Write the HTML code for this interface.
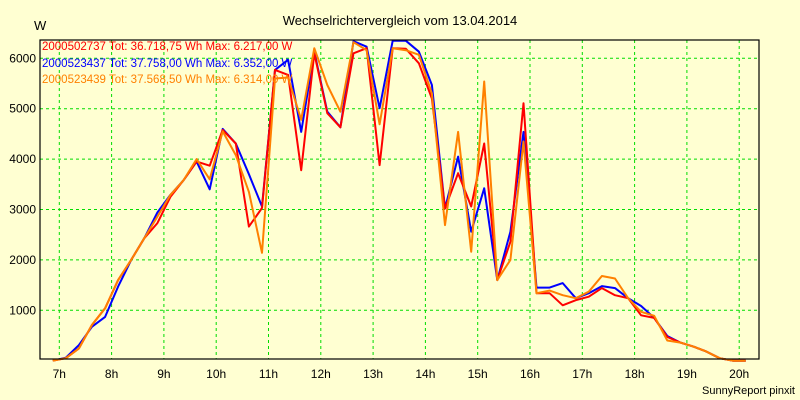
<!DOCTYPE html>
<html><head><meta charset="utf-8"><style>
body{margin:0;background:#ffffd2;}
svg{display:block;font-family:"Liberation Sans",sans-serif;}
</style></head><body>
<svg id="chart" width="800" height="400" viewBox="0 0 800 400">
<rect x="0" y="0" width="800" height="400" fill="#ffffd2"/>
<text x="400" y="25" text-anchor="middle" font-size="13" fill="#000">Wechselrichtervergleich vom 13.04.2014</text>
<text x="34" y="30" font-size="13" fill="#000">W</text>
<text x="795" y="394" text-anchor="end" font-size="11" fill="#000">SunnyReport pinxit</text>
<g id="grid"></g>
<g id="series"></g>
<rect x="40" y="40" width="719" height="319" fill="none" stroke="#000" stroke-width="1.2"/>
<g id="legend">
<text x="42" y="50" font-size="11.5" fill="#ff0000">2000502737 Tot: 36.718,75 Wh Max: 6.217,00 W</text>
<text x="42" y="67" font-size="11.5" fill="#0000ff">2000523437 Tot: 37.758,00 Wh Max: 6.352,00 W</text>
<text x="42" y="83" font-size="11.5" fill="#ff8000">2000523439 Tot: 37.568,50 Wh Max: 6.314,00 W</text>
</g>
</svg>
<script>
const startHour = 6.875;
const stepHours = 0.25;
const xTickLabels = ["7h","8h","9h","10h","11h","12h","13h","14h","15h","16h","17h","18h","19h","20h"];
const xTickHours = [7,8,9,10,11,12,13,14,15,16,17,18,19,20];
const yTickValues = [1000,2000,3000,4000,5000,6000];
const red = [0,50,245,710,1040,1600,2000,2430,2730,3250,3580,3950,3870,4580,4310,2660,3030,5770,5670,3780,6100,4910,4630,6100,6200,3880,6200,6190,5900,5200,3020,3720,3060,4310,1600,2360,5110,1340,1340,1100,1200,1270,1440,1300,1240,900,850,470,360,280,180,50,0,0];
const blue = [0,60,310,675,870,1470,2000,2430,2940,3290,3580,3950,3400,4600,4310,3700,3060,5770,5970,4540,6130,4940,4630,6340,6230,5010,6350,6350,6130,5470,3020,4050,2560,3420,1600,2560,4540,1450,1450,1540,1240,1340,1480,1440,1240,1085,850,490,360,280,180,50,0,0];
const orange = [0,50,245,710,1040,1600,2000,2430,2860,3290,3580,4000,3600,4550,4080,3350,2140,5600,5620,4780,6200,5470,4940,6320,6160,4690,6200,6160,6070,5300,2690,4540,2160,5540,1600,2000,4350,1340,1390,1300,1240,1370,1680,1630,1240,970,890,400,360,280,180,50,0,0];

const NS="http://www.w3.org/2000/svg";
const xOf = h => 59.3 + (h-7)*52.3;
const yOf = v => 360.7 - v*0.0504;
const grid=document.getElementById('grid');
xTickHours.forEach((h,i)=>{
  const l=document.createElementNS(NS,'line');
  l.setAttribute('x1',xOf(h));l.setAttribute('x2',xOf(h));l.setAttribute('y1',40);l.setAttribute('y2',359);
  l.setAttribute('stroke','#00dd00');l.setAttribute('stroke-dasharray','3,3');
  
  
  grid.appendChild(l);
  const t=document.createElementNS(NS,'text');
  t.setAttribute('x',xOf(h));t.setAttribute('y',378);t.setAttribute('text-anchor','middle');t.setAttribute('font-size','12');
  t.textContent=xTickLabels[i];
  
  
  grid.appendChild(t);
});
yTickValues.forEach(v=>{
  const l=document.createElementNS(NS,'line');
  l.setAttribute('x1',40);l.setAttribute('x2',759);l.setAttribute('y1',yOf(v));l.setAttribute('y2',yOf(v));
  l.setAttribute('stroke','#00dd00');l.setAttribute('stroke-dasharray','3,3');
  
  
  grid.appendChild(l);
  const t=document.createElementNS(NS,'text');
  t.setAttribute('x',36);t.setAttribute('y',yOf(v)+4);t.setAttribute('text-anchor','end');t.setAttribute('font-size','12');
  t.textContent=String(v);
  
  
  grid.appendChild(t);
});
const sg=document.getElementById('series');
[[blue,'#0000ff','series-2000523437'],[red,'#ff0000','series-2000502737'],[orange,'#ff8000','series-2000523439']].forEach(([arr,col,name])=>{
  const p=document.createElementNS(NS,'polyline');
  p.setAttribute('points',arr.map((v,i)=>xOf(startHour+i*stepHours).toFixed(1)+','+yOf(v).toFixed(1)).join(' '));
  p.setAttribute('fill','none');p.setAttribute('stroke',col);p.setAttribute('stroke-width','2');p.setAttribute('stroke-linejoin','round');
  
  
  sg.appendChild(p);
});
</script>
</body></html>
